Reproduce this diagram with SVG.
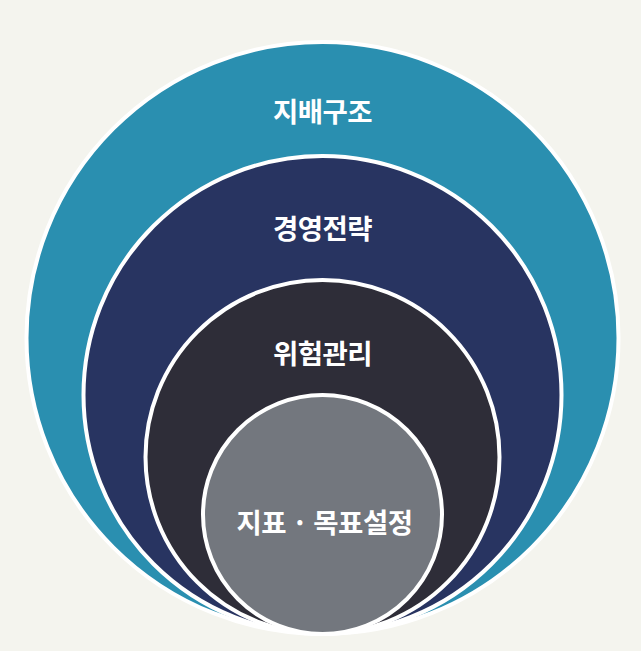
<svg xmlns="http://www.w3.org/2000/svg" width="641" height="651" viewBox="0 0 641 651">
<style>
.ring{stroke:#ffffff;stroke-width:4}
.lbl{font-family:"Noto Sans CJK KR","Noto Sans",sans-serif;font-weight:bold;font-size:27.5px;fill:#ffffff;text-anchor:middle;dominant-baseline:central;letter-spacing:-0.5px}
</style>
<rect width="641" height="651" fill="#f4f4ee"/>
<g id="governance">
<circle class="ring" cx="322.5" cy="338" r="296" fill="#2a8fb0"/>
<text class="lbl" x="322.5" y="110">지배구조</text>
</g>
<g id="strategy">
<circle class="ring" cx="322.5" cy="395" r="239" fill="#283461"/>
<text class="lbl" x="322.5" y="227">경영전략</text>
</g>
<g id="risk">
<circle class="ring" cx="322.5" cy="457" r="177" fill="#2e2d38"/>
<text class="lbl" x="322.5" y="352">위험관리</text>
</g>
<g id="targets">
<circle class="ring" cx="322.5" cy="514.5" r="119.5" fill="#73777e"/>
<text class="lbl" x="324.5" y="521">지표 · 목표설정</text>
</g>
<g id="connectors"/>
</svg>
